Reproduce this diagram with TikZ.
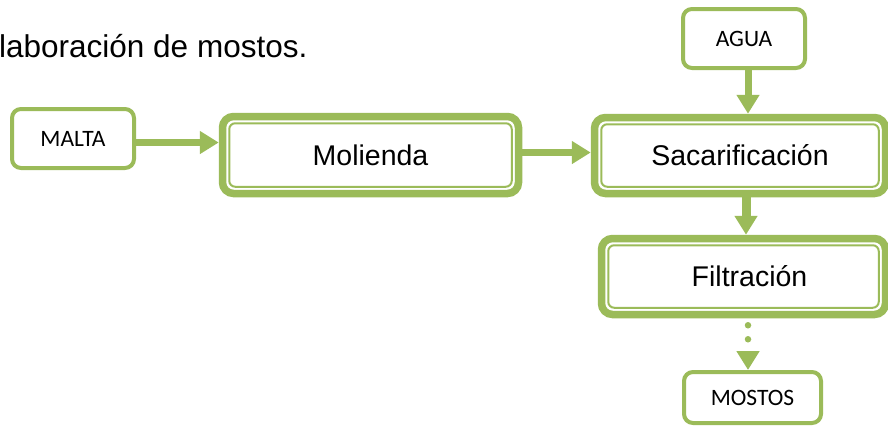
\documentclass[tikz,border=0pt]{standalone}
\usepackage{fontspec}
\setmainfont{Liberation Sans}
\newfontfamily\labelfont{Carlito}
\usetikzlibrary{arrows.meta}
\definecolor{leaf}{RGB}{155,187,89}

% thin inner outline of a thick step box
\newcommand\framein[1]{%
  \draw[innerframe] ([xshift=10.5pt,yshift=-10.5pt]#1.north west)
    rectangle ([xshift=-10.5pt,yshift=10.5pt]#1.south east);}

\begin{document}
\begin{tikzpicture}[x=1pt,y=-1pt,
  smallbox/.style={draw=leaf, line width=4pt, rounded corners=9pt, fill=white,
    minimum width=122pt, minimum height=59pt, inner sep=0pt,
    font=\labelfont\fontsize{23.5}{25}\selectfont, text height=15pt, text depth=0pt},
  bigbox/.style={draw=leaf, line width=7.5pt, rounded corners=11pt, inner sep=0pt,
    font=\fontsize{28.5}{30}\selectfont, text height=20.4pt, text depth=0pt},
  innerframe/.style={draw=leaf, line width=2pt, rounded corners=6pt},
  flow/.style={draw=leaf, line width=7pt, -{Triangle[length=19pt,width=22pt]}},
]
\useasboundingbox (0,0) rectangle (888,426);

% heading
\node[anchor=base west, inner sep=0pt, font=\fontsize{31.5}{33}\selectfont] (title)
  at (-1,57) {laboración de mostos.};

% inputs and output
\node[smallbox] (malta) at (73,138.5) {MALTA};
\node[smallbox] (agua) at (744,38.5) {AGUA};
\node[smallbox, minimum width=137pt, minimum height=51pt] (mostos) at (752.5,397.5) {MOSTOS};

% process steps
\node[bigbox, minimum width=296pt, minimum height=77pt] (mol) at (370.5,155) {Molienda};
\node[bigbox, minimum width=291pt, minimum height=76pt] (sac) at (740,155.5) {Sacarificación};
\node[bigbox, minimum width=284pt, minimum height=76pt] (fil) at (743.5,276.5) {\hspace*{12pt}Filtración};
\framein{mol}
\framein{sac}
\framein{fil}

% flow arrows
\draw[flow] ([yshift=-4pt]malta.east) -- ([yshift=-4pt]malta.east -| mol.west);
\draw[flow] ([yshift=2.5pt]mol.east) -- ([yshift=2.5pt]mol.east -| sac.west);
\draw[flow] ([xshift=4pt]agua.south) -- ([xshift=4pt]agua.south |- sac.north);
\draw[flow, line width=9pt] ([xshift=6pt]sac.south) -- ([xshift=6pt]sac.south |- fil.north);
\draw[flow, line width=6.5pt, dash pattern=on 0pt off 14pt, dash phase=7pt, line cap=round]
  ([xshift=-4.5pt]mostos.north |- fil.south) -- ([xshift=-4.5pt]mostos.north);
\end{tikzpicture}
\end{document}
